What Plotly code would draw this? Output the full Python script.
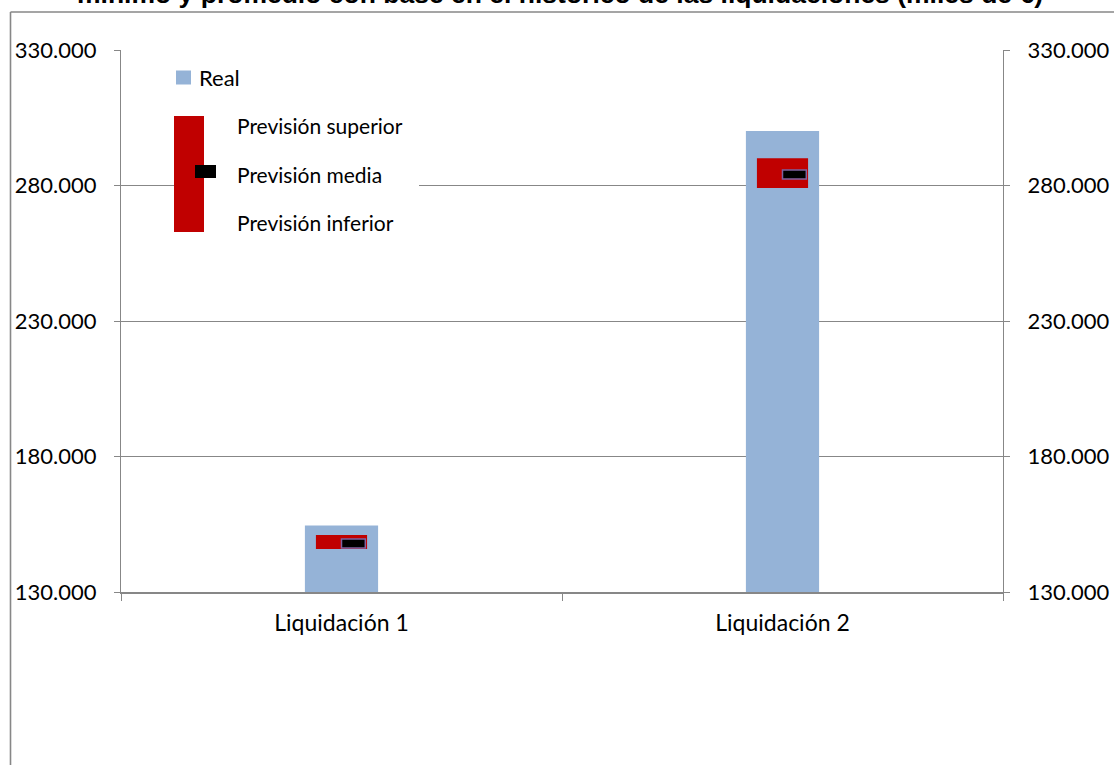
import plotly.graph_objects as go

# ---- data ----
categorias = ["Liquidación 1", "Liquidación 2"]
real = [154500, 300100]
prevision_superior = [151000, 290100]
prevision_inferior = [145900, 279100]
prevision_media = [147900, 284100]

titulo = "mínimo y promedio con base en el histórico de las liquidaciones (miles de €)"
y_min, y_max, y_step = 130000, 330000, 50000

# ---- style ----
W, H = 1114, 765
L, R, T, B = 121, 111, 50, 173
PW, PH = W - L - R, H - T - B
GRAY = "#878787"
BLUE = "#95b3d7"
RED = "#c00000"
FONT = "Lato"
MEDIA_H = (y_max - y_min) * 9 / PH  # visual thickness of the mean marker (9 px)


def px(x):
    return (x - L) / PW


def py(y):
    return (H - B - y) / PH


fig = go.Figure()

fig.add_trace(go.Bar(
    x=categorias, y=real, width=0.166, marker=dict(color=BLUE, line=dict(width=0)),
    name="Real", yaxis="y", hoverinfo="skip"))

fig.add_trace(go.Bar(
    x=categorias,
    y=[s - i for s, i in zip(prevision_superior, prevision_inferior)],
    base=prevision_inferior, width=0.116,
    marker=dict(color=RED, line=dict(width=0)), name="Previsión", yaxis="y2",
    hoverinfo="skip"))

fig.add_trace(go.Bar(
    x=categorias, y=[MEDIA_H] * len(prevision_media),
    base=[m - MEDIA_H / 2 for m in prevision_media], width=0.054, offset=0,
    marker=dict(color="#000000", line=dict(color="#7f63a1", width=1.5)),
    name="Previsión media", yaxis="y2", hoverinfo="skip"))

yax = dict(range=[y_min, y_max], dtick=y_step, tick0=y_min, tickformat=",.0f",
           ticks="outside", ticklen=6, tickcolor=GRAY, tickwidth=1.3,
           showline=True, linecolor=GRAY, linewidth=1.3,
           tickfont=dict(family=FONT, size=22, color="#000000"),
           ticklabelstandoff=13, zeroline=False, automargin=False)

fig.update_layout(
    width=W, height=H, autosize=False,
    margin=dict(l=L, r=R, t=T, b=B, pad=0, autoexpand=False),
    paper_bgcolor="white", plot_bgcolor="white",
    separators=",.",
    barmode="overlay", showlegend=False,
    xaxis=dict(type="category", range=[-0.5, 1.5], tickson="boundaries",
               ticks="outside", ticklen=7, tickcolor=GRAY, tickwidth=1.3,
               showline=True, linecolor=GRAY, linewidth=1.6, showgrid=False,
               tickfont=dict(family=FONT, size=23, color="#000000"),
               ticklabelstandoff=10, automargin=False),
    yaxis=dict(**yax, side="left", showgrid=True, gridcolor=GRAY, gridwidth=1.3),
    yaxis2=dict(**yax, side="right", overlaying="y", showgrid=False),
)

# title (partly cut by the top edge, as in the reference)
fig.add_annotation(text="<b>" + titulo + "</b>", xref="paper", yref="paper",
                   x=px(560), y=py(-6), xanchor="center", yanchor="middle",
                   showarrow=False,
                   font=dict(family="Liberation Sans, Arial", size=26.5, color="#000000"))

# outer frame (left and top edges)
fig.add_shape(type="line", xref="paper", yref="paper", x0=px(10.5), x1=px(10.5),
              y0=py(12), y1=py(H + 5), line=dict(color=GRAY, width=1.6), layer="above")
fig.add_shape(type="line", xref="paper", yref="paper", x0=px(10.5), x1=px(W + 5),
              y0=py(12), y1=py(12), line=dict(color=GRAY, width=1.6), layer="above")

# custom legend
fig.add_shape(type="rect", xref="paper", yref="paper", x0=px(174), x1=px(419),
              y0=py(240), y1=py(60), fillcolor="white", line=dict(width=0), layer="above")
fig.add_shape(type="rect", xref="paper", yref="paper", x0=px(176), x1=px(191),
              y0=py(84.5), y1=py(70.5), fillcolor=BLUE, line=dict(width=0), layer="above")
fig.add_shape(type="rect", xref="paper", yref="paper", x0=px(174), x1=px(204),
              y0=py(232), y1=py(116), fillcolor=RED, line=dict(width=0), layer="above")
fig.add_shape(type="rect", xref="paper", yref="paper", x0=px(195), x1=px(216),
              y0=py(178), y1=py(165), fillcolor="#000000", line=dict(width=0), layer="above")

leg = [("Real", 197, 77, 22), ("Previsión superior", 235, 125, 21),
       ("Previsión media", 235, 174, 21), ("Previsión inferior", 235, 222, 21)]
for txt, lx, ly, fs in leg:
    fig.add_annotation(text=txt, xref="paper", yref="paper", x=px(lx), y=py(ly),
                       xanchor="left", yanchor="middle", showarrow=False,
                       font=dict(family=FONT, size=fs, color="#000000"))

fig.write_html(
    "out.html",
    config={"displayModeBar": False, "responsive": False},
    post_script=("document.documentElement.style.overflow='hidden';"
                 "document.body.style.margin='0';document.body.style.overflow='hidden';"),
)
